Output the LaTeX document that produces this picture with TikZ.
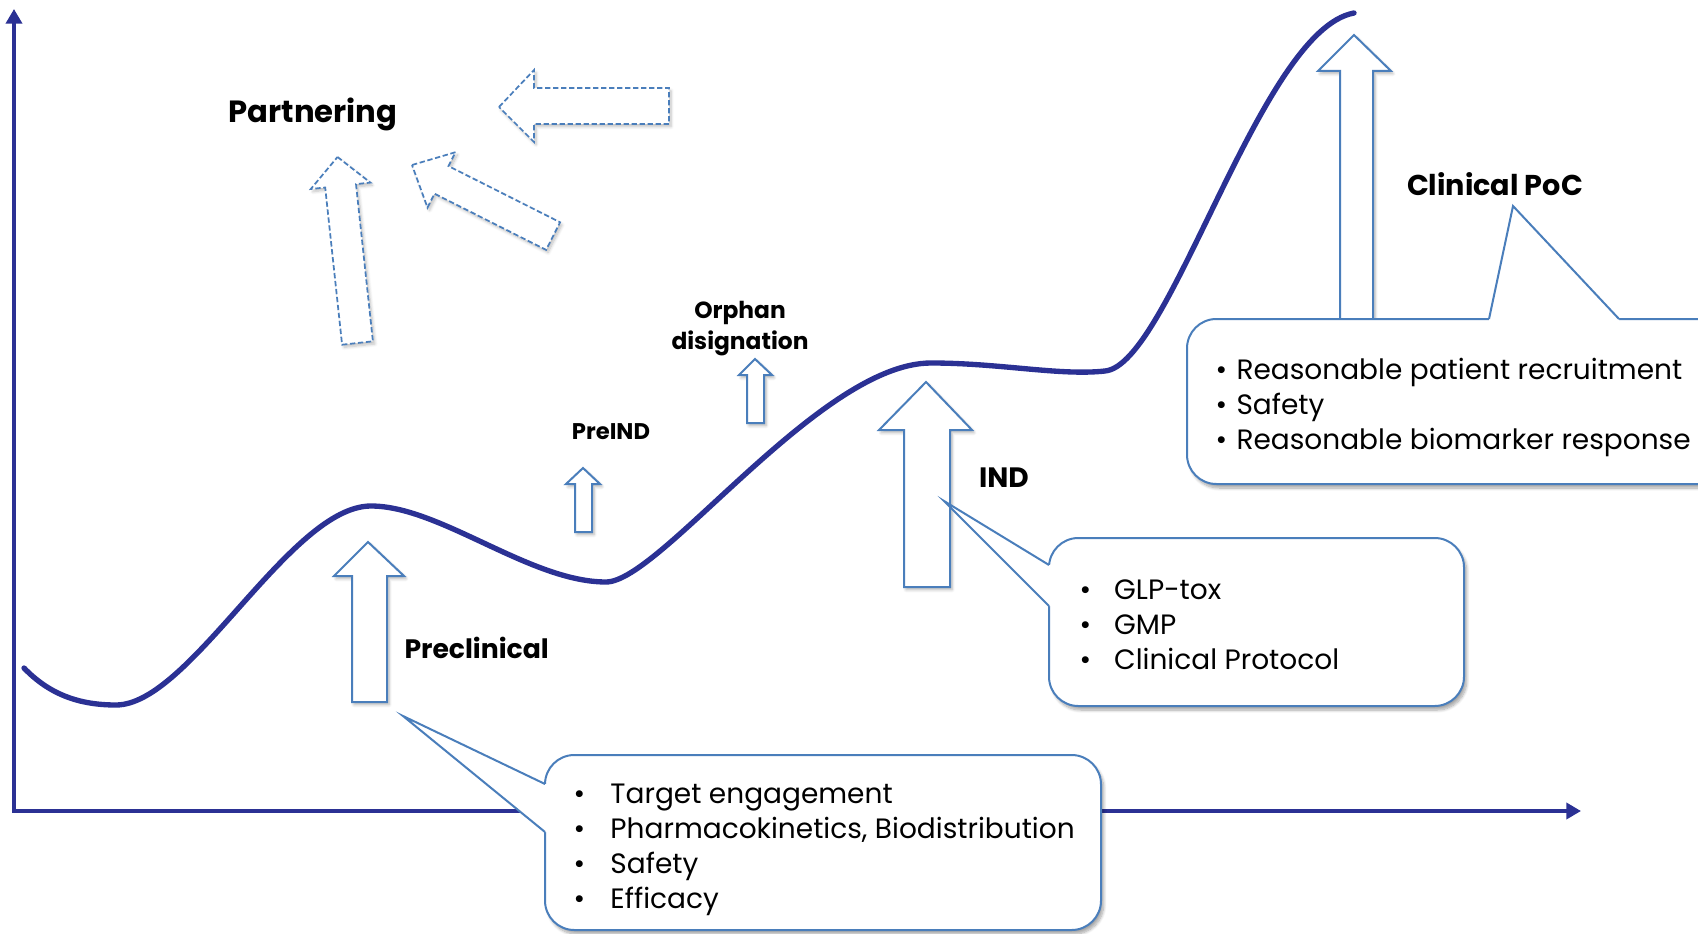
\documentclass[tikz,border=0pt]{standalone}
\usepackage{fontspec}
\setmainfont{Poppins}
\usetikzlibrary{arrows.meta,shadows.blur}

\definecolor{axisblue}{RGB}{43,49,148}
\definecolor{shapeblue}{RGB}{74,126,187}

\tikzset{every picture/.style={line width=0.75pt}}
\tikzset{
  axisline/.style={draw=axisblue, line width=3.6pt},
  stagecurve/.style={draw=axisblue, line width=4pt, line cap=round},
  uparrow/.style={draw=shapeblue, line width=1.5pt, fill=white, line join=miter,
    blur shadow={shadow xshift=1.5pt, shadow yshift=-2pt, shadow opacity=30, shadow blur steps=6}},
  dasharrow/.style={draw=shapeblue, line width=1.3pt, fill=white, dash pattern=on 4pt off 2pt,
    blur shadow={shadow xshift=1.5pt, shadow yshift=-2pt, shadow opacity=25, shadow blur steps=6}},
  calloutbox/.style={draw=shapeblue, line width=1.5pt, fill=white, rounded corners=22pt,
    blur shadow={shadow xshift=2pt, shadow yshift=-3pt, shadow opacity=35, shadow blur steps=8}},
  calloutedge/.style={draw=shapeblue, line width=1.5pt},
  stagelbl/.style={inner sep=0.75pt, font=\bfseries\fontsize{20}{24}\selectfont},
  itemlist/.style={inner sep=0.75pt, anchor=west, align=left, font=\fontsize{21}{26.25}\selectfont}
}

\begin{document}
\begin{tikzpicture}[x=0.75pt,y=0.75pt,yscale=-1,xscale=1]
    \useasboundingbox (0,0) rectangle (1698,934);
    \clip (0,0) rectangle (1698,934);
    %Axes
    \draw[axisline, {Triangle[length=11pt,width=12pt]}-{Triangle[length=11pt,width=12pt]}] (14,9) -- (14,811) -- (1581,811);
    %Curve Lines
    \draw[stagecurve] (24,668) .. controls (50,695) and (80,705) .. (116,705)
        .. controls (190,705) and (290,506) .. (371,506)
        .. controls (440,506) and (530,582) .. (606,582)
        .. controls (660,582) and (820,363) .. (931,363)
        .. controls (1000,363) and (1060,376) .. (1105,371)
        .. controls (1170,365) and (1260,30) .. (1354,13);
    %Dashed Arrow: horizontal
    \draw[dasharrow] (499,107) -- (534,70) -- (534,88) -- (669,88) -- (669,124) -- (534,124) -- (534,142) -- cycle;
    %Dashed Arrow: slanted
    \draw[dasharrow] (412,165) -- (455.5,152.2) -- (448.5,166.1) -- (560.1,222.3) -- (546.1,249.9) -- (434.5,193.7) -- (427.5,207.6) -- cycle;
    %Dashed Arrow: upright
    \draw[dasharrow] (337.5,157) -- (370.4,182.6) -- (356,184.1) -- (372.9,341.3) -- (342.1,344.7) -- (325.2,187.5) -- (310.8,189) -- cycle;
    %Up Arrow: Preclinical
    \draw[uparrow] (368,542) -- (404,576) -- (387,576) -- (387,702) -- (352,702) -- (352,576) -- (334,576) -- cycle;
    %Up Arrow: PreIND
    \draw[uparrow] (583,468) -- (600,484) -- (592,484) -- (592,532) -- (575,532) -- (575,484) -- (566,484) -- cycle;
    %Up Arrow: Orphan
    \draw[uparrow] (755,359) -- (772,375) -- (764,375) -- (764,423) -- (747,423) -- (747,375) -- (739,375) -- cycle;
    %Up Arrow: IND
    \draw[uparrow] (926,382) -- (972,430) -- (950,430) -- (950,587) -- (904,587) -- (904,430) -- (879,430) -- cycle;
    %Up Arrow: Clinical PoC
    \draw[uparrow] (1354,35) -- (1391,71) -- (1373,71) -- (1373,330) -- (1340,330) -- (1340,71) -- (1318,71) -- cycle;
    %Callout: Preclinical
    \draw[calloutbox] (545,755) rectangle (1101,930);
    \fill[white] (403,716) -- (545,784) -- (548,784) -- (548,832) -- (545,832) -- cycle;
    \draw[calloutedge] (545,784) -- (403,716) -- (545,832);
    %Callout: IND
    \draw[calloutbox] (1049,538) rectangle (1464,706);
    \fill[white] (944,501) -- (1049,565) -- (1052,565) -- (1052,606) -- (1049,606) -- cycle;
    \draw[calloutedge] (1049,565) -- (944,501) -- (1049,606);
    %Callout: Clinical PoC
    \draw[calloutbox] (1187,319) rectangle (1740,484);
    \fill[white] (1489,319) -- (1513,206) -- (1619,319) -- (1619,322) -- (1489,322) -- cycle;
    \draw[calloutedge] (1489,319) -- (1513,206) -- (1619,319);
    % Text Node
    \draw (313,114) node (partner) [stagelbl, font=\bfseries\fontsize{23}{27}\selectfont] {Partnering};
    % Text Node
    \draw (1495,184) node (poclbl) [stagelbl, font=\bfseries\fontsize{21.5}{26}\selectfont] {Clinical PoC};
    % Text Node
    \draw (403,648) node (prelbl) [stagelbl, anchor=west] {Preclinical};
    % Text Node
    \draw (1004,478) node (indlbl) [stagelbl, font=\bfseries\fontsize{21}{25}\selectfont] {IND};
    % Text Node
    \draw (611,432) node (preindlbl) [stagelbl, font=\bfseries\fontsize{17}{20}\selectfont] {PreIND};
    % Text Node
    \draw (740,329) node (orphanlbl) [stagelbl, align=center, font=\bfseries\fontsize{17.5}{23.25}\selectfont] {Orphan\\disignation};
    % Text Node
    \draw (572,850) node (prelist) [itemlist] {\makebox[27.75pt][l]{\textbullet}Target engagement\\
        \makebox[27.75pt][l]{\textbullet}Pharmacokinetics, Biodistribution\\
        \makebox[27.75pt][l]{\textbullet}Safety\\
        \makebox[27.75pt][l]{\textbullet}Efficacy};
    % Text Node
    \draw (1078,625) node (indlist) [itemlist] {\makebox[26pt][l]{\textbullet}GLP-tox\\
        \makebox[26pt][l]{\textbullet}GMP\\
        \makebox[26pt][l]{\textbullet}Clinical Protocol};
    % Text Node
    \draw (1214,407) node (poclist) [itemlist] {\makebox[15.75pt][l]{\textbullet}Reasonable patient recruitment\\
        \makebox[15.75pt][l]{\textbullet}Safety\\
        \makebox[15.75pt][l]{\textbullet}Reasonable biomarker response};
\end{tikzpicture}
\end{document}
